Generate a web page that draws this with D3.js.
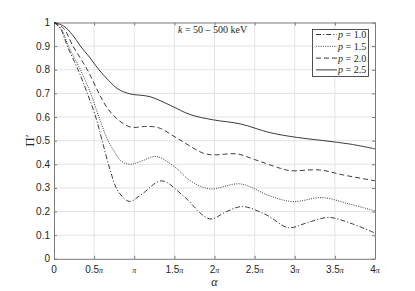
<!DOCTYPE html>
<html lang="en">
<head>
<meta charset="UTF-8">
<title>Pi' vs alpha</title>
<script src="https://d3js.org/d3.v7.min.js"></script>
<style>
  body { margin: 0; background: #fff; }
</style>
</head>
<body>
<script>
    // alpha in units of pi, value of Pi'
    var alphaP10 = [0, 0.08, 0.166, 0.3, 0.415, 0.52, 0.6, 0.7, 0.8, 0.94, 1.1, 1.34, 1.6, 1.94, 2.15, 2.35, 2.65, 2.92, 3.15, 3.42, 3.7, 4];
    var valsP10  = [1, 0.975, 0.9, 0.8, 0.7, 0.6, 0.5, 0.375, 0.285, 0.243, 0.275, 0.33, 0.27, 0.169, 0.2, 0.221, 0.185, 0.132, 0.152, 0.175, 0.15, 0.109];

    var alphaP15 = [0, 0.09, 0.18, 0.33, 0.457, 0.56, 0.66, 0.74, 0.84, 0.95, 1.1, 1.27, 1.5, 1.7, 1.94, 2.32, 2.69, 2.98, 3.34, 3.7, 4];
    var valsP15  = [1, 0.973, 0.9, 0.8, 0.7, 0.6, 0.51, 0.46, 0.413, 0.4, 0.415, 0.433, 0.39, 0.33, 0.296, 0.317, 0.266, 0.242, 0.259, 0.23, 0.203];

    var alphaP20 = [0, 0.12, 0.237, 0.415, 0.56, 0.66, 0.78, 0.947, 1.155, 1.3, 1.57, 1.86, 2.0, 2.28, 2.5, 2.82, 2.94, 3.31, 3.6, 4];
    var valsP20  = [1, 0.975, 0.9, 0.8, 0.7, 0.64, 0.594, 0.558, 0.56, 0.555, 0.503, 0.447, 0.44, 0.444, 0.42, 0.383, 0.373, 0.376, 0.355, 0.33];

    var alphaP25 = [0, 0.12, 0.23, 0.33, 0.45, 0.56, 0.68, 0.8, 0.947, 1.196, 1.446, 1.7, 1.985, 2.32, 2.69, 3.02, 3.36, 3.7, 4];
    var valsP25  = [1, 0.985, 0.948, 0.9, 0.85, 0.8, 0.755, 0.718, 0.698, 0.686, 0.65, 0.61, 0.588, 0.571, 0.534, 0.514, 0.5, 0.485, 0.465];

    var seriesNames = ["p = 1.0", "p = 1.5", "p = 2.0", "p = 2.5"];
    var seriesAlpha = [alphaP10, alphaP15, alphaP20, alphaP25];
    var seriesVals  = [valsP10, valsP15, valsP20, valsP25];
    var seriesDash  = ["5,2,1.2,2", "1,1.3", "5,3", null];

    var xTicks = [0, 0.5, 1, 1.5, 2, 2.5, 3, 3.5, 4];
    var xTickNums = ["0", "0.5", "", "1.5", "2", "2.5", "3", "3.5", "4"];
    var yTicks = [0, 0.1, 0.2, 0.3, 0.4, 0.5, 0.6, 0.7, 0.8, 0.9, 1];

    var width = 415, height = 291;
    // plot box (note: "top" is reserved on window, so use pTop etc.)
    var pLeft = 54, pRight = 375, pTop = 22.5, pBottom = 258.8;

    var svg = d3.select("body").append("svg")
        .attr("width", width)
        .attr("height", height);

    var x = d3.scaleLinear().domain([0, 4]).range([pLeft, pRight]);
    var y = d3.scaleLinear().domain([0, 1]).range([pBottom, pTop]);

    // grid
    var grid = svg.append("g").attr("stroke", "#e3e3e3").attr("stroke-width", 1);
    grid.selectAll(".gx").data(xTicks.slice(1, -1)).enter().append("line")
        .attr("x1", d => x(d)).attr("x2", d => x(d))
        .attr("y1", pTop).attr("y2", pBottom);
    grid.selectAll(".gy").data(yTicks.slice(1, -1)).enter().append("line")
        .attr("x1", pLeft).attr("x2", pRight)
        .attr("y1", d => y(d)).attr("y2", d => y(d));

    // axes with inward ticks on all four sides
    var axisColor = "#7a7a7a";
    svg.append("g").attr("transform", "translate(0," + pBottom + ")")
        .call(d3.axisBottom(x).tickValues(xTicks).tickSizeInner(-3).tickSizeOuter(0).tickFormat(""));
    svg.append("g").attr("transform", "translate(0," + pTop + ")")
        .call(d3.axisTop(x).tickValues(xTicks).tickSizeInner(-3).tickSizeOuter(0).tickFormat(""));
    svg.append("g").attr("transform", "translate(" + pLeft + ",0)")
        .call(d3.axisLeft(y).tickValues(yTicks).tickSizeInner(-3).tickSizeOuter(0).tickFormat(""));
    svg.append("g").attr("transform", "translate(" + pRight + ",0)")
        .call(d3.axisRight(y).tickValues(yTicks).tickSizeInner(-3).tickSizeOuter(0).tickFormat(""));
    svg.selectAll(".domain").attr("stroke", axisColor);
    svg.selectAll(".tick line").attr("stroke", axisColor);

    // y tick labels
    svg.append("g").selectAll("text").data(yTicks).enter().append("text")
        .attr("x", pLeft - 4)
        .attr("y", d => y(d) + 3.5)
        .attr("text-anchor", "end")
        .attr("font-family", "Liberation Sans, Arial, sans-serif")
        .attr("font-size", "10px")
        .attr("fill", "#262626")
        .text(d => d3.format("~g")(d));

    // x tick labels: number + italic pi
    var xl = svg.append("g").selectAll("text").data(xTicks).enter().append("text")
        .attr("x", d => x(d))
        .attr("y", 272.5)
        .attr("text-anchor", "middle")
        .attr("font-size", "10px")
        .attr("fill", "#262626");
    xl.append("tspan")
        .attr("font-family", "Liberation Sans, Arial, sans-serif")
        .text((d, i) => xTickNums[i]);
    xl.append("tspan")
        .attr("font-family", "Liberation Serif, serif")
        .attr("font-style", "italic")
        .attr("font-size", "8px")
        .text(d => d === 0 ? "" : "\u03c0");

    // axis titles
    svg.append("text")
        .attr("x", x(2)).attr("y", 286)
        .attr("text-anchor", "middle")
        .attr("font-family", "Liberation Serif, serif")
        .attr("font-style", "italic")
        .attr("font-size", "12px")
        .attr("fill", "#262626")
        .text("\u03b1");
    svg.append("text")
        .attr("transform", "translate(34," + y(0.5) + ") rotate(-90)")
        .attr("text-anchor", "middle")
        .attr("font-family", "Liberation Serif, serif")
        .attr("font-size", "13px")
        .attr("fill", "#262626")
        .text("\u03a0\u2032");

    // curves
    var line = d3.line()
        .x(d => x(d[0]))
        .y(d => y(d[1]))
        .curve(d3.curveCatmullRom.alpha(0.5));

    seriesAlpha.forEach(function(al, i) {
        var pts = al.map((a, j) => [a, seriesVals[i][j]]);
        svg.append("path")
            .datum(pts)
            .attr("d", line)
            .attr("fill", "none")
            .attr("stroke", "#262626")
            .attr("stroke-width", 0.9)
            .attr("stroke-dasharray", seriesDash[i]);
    });

    // annotation
    var ann = svg.append("text")
        .attr("x", 178).attr("y", 33)
        .attr("font-family", "Liberation Serif, serif")
        .attr("font-size", "10px")
        .attr("fill", "#262626");
    ann.append("tspan").attr("font-style", "italic").text("k");
    ann.append("tspan").text(" = 50 \u2013 500 keV");

    // legend
    var lg = svg.append("g");
    lg.append("rect")
        .attr("x", 312.5).attr("y", 29.5)
        .attr("width", 56).attr("height", 47)
        .attr("fill", "#fff")
        .attr("stroke", "#262626")
        .attr("stroke-width", 0.8);
    seriesNames.forEach(function(name, i) {
        var ly = 34.5 + i * 11.8;
        lg.append("line")
            .attr("x1", 316).attr("x2", 337)
            .attr("y1", ly).attr("y2", ly)
            .attr("stroke", "#262626")
            .attr("stroke-width", 0.9)
            .attr("stroke-dasharray", seriesDash[i]);
        var t = lg.append("text")
            .attr("x", 338).attr("y", ly + 3.5)
            .attr("font-family", "Liberation Serif, serif")
            .attr("font-size", "10px")
            .attr("fill", "#262626");
        t.append("tspan").attr("font-style", "italic").text("p");
        t.append("tspan").text(name.slice(1));
    });
</script>
</body>
</html>
